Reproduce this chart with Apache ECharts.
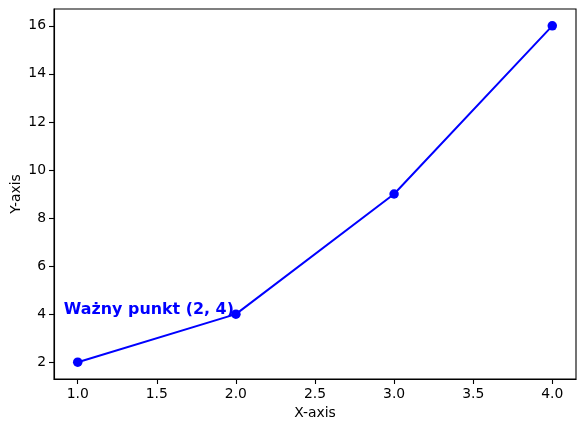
<!DOCTYPE html>
<html>
<head>
<meta charset="utf-8">
<script src="https://cdn.jsdelivr.net/npm/echarts@6/dist/echarts.min.js"></script>
<style>
  html, body { margin: 0; padding: 0; background: #fff; }
  #main { width: 584px; height: 429px; }
</style>
</head>
<body>
<div id="main"></div>
<script>
var xValues = [1, 2, 3, 4];
var yValues = [2, 4, 9, 16];
var xTicks = [1, 1.5, 2, 2.5, 3, 3.5, 4];
var yTicks = [2, 4, 6, 8, 10, 12, 14, 16];
var noteText = 'Ważny punkt (2, 4)';
var notePoint = [2, 4];

var font = 'DejaVu Sans';
var chart = echarts.init(document.getElementById('main'));

chart.setOption({
  animation: false,
  grid: {
    left: 54, right: 8, top: 9, bottom: 50,
    containLabel: false,
    outerBoundsMode: 'none',
    show: true, borderColor: '#000', borderWidth: 1.1
  },
  xAxis: {
    type: 'value',
    min: 0.85, max: 4.15,
    name: 'X-axis',
    nameLocation: 'middle',
    nameGap: 27,
    nameTextStyle: { fontFamily: font, fontSize: 13.9, color: '#000' },
    axisLine: { show: true, onZero: false, lineStyle: { color: '#000', width: 1.1 } },
    axisTick: { show: true, length: 5, customValues: xTicks, lineStyle: { color: '#000', width: 1.1 } },
    axisLabel: {
      customValues: xTicks, margin: 8,
      fontFamily: font, fontSize: 13.9, color: '#000',
      formatter: function (v) { return v.toFixed(1); }
    },
    splitLine: { show: false }
  },
  yAxis: {
    type: 'value',
    min: 1.3, max: 16.7,
    name: 'Y-axis',
    nameLocation: 'middle',
    nameGap: 31,
    nameMoveOverlap: false,
    nameTextStyle: { fontFamily: font, fontSize: 13.9, color: '#000' },
    axisLine: { show: true, onZero: false, lineStyle: { color: '#000', width: 1.1 } },
    axisTick: { show: true, length: 5, customValues: yTicks, lineStyle: { color: '#000', width: 1.1 } },
    axisLabel: {
      customValues: yTicks, margin: 8,
      fontFamily: font, fontSize: 13.9, color: '#000'
    },
    splitLine: { show: false }
  },
  series: [{
    type: 'line',
    data: xValues.map(function (x, i) { return [x, yValues[i]]; }),
    symbol: 'circle',
    symbolSize: 9.5,
    showSymbol: true,
    lineStyle: { color: '#0000ff', width: 2 },
    itemStyle: { color: '#0000ff' }
  }, {
    // annotation text, anchored at the point
    type: 'scatter',
    data: [notePoint],
    symbolSize: 0,
    silent: true,
    z: 5,
    label: {
      show: true,
      position: [0, 0],
      align: 'right',
      verticalAlign: 'middle',
      offset: [-2, -4],
      formatter: noteText,
      fontFamily: font,
      fontWeight: 'bold',
      fontSize: 15.9,
      color: '#0000ff',
      textBorderWidth: 0,
      opacity: 1
    }
  }]
});
</script>
</body>
</html>
